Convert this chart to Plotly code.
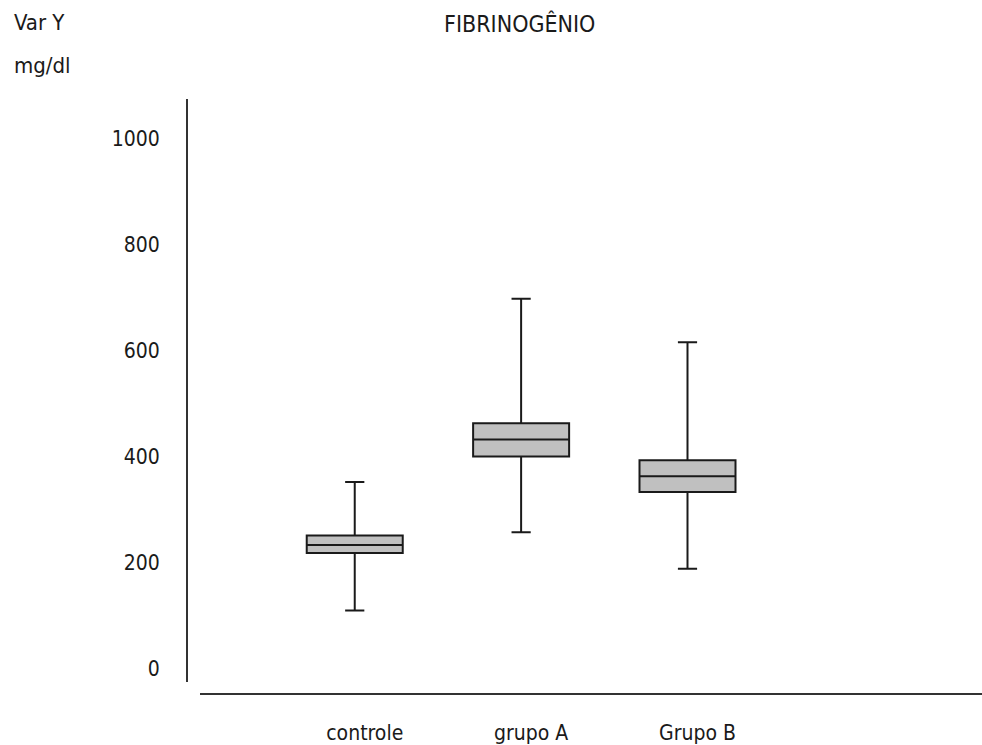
import plotly.graph_objects as go

categories = ["controle", "grupo A", "Grupo B"]
lower_whisker = [109, 257, 188]
q1_vals = [218, 400, 333]
median_vals = [233, 432, 363]
q3_vals = [251, 463, 393]
upper_whisker = [352, 698, 616]
y_ticks = [0, 200, 400, 600, 800, 1000]

W, H = 982, 745
FONT = "Liberation Sans Narrow, Arial Narrow, DejaVu Sans Condensed, sans-serif"
FS_TICK = 21
FS_TITLE = 23
FS_LBL = 22
TXT = "#1a1a1a"

fig = go.Figure()
fig.add_trace(go.Box(
    x=categories,
    q1=q1_vals, median=median_vals, q3=q3_vals,
    lowerfence=lower_whisker, upperfence=upper_whisker,
    fillcolor="#c0c0c0",
    line=dict(color="#1a1a1a", width=2),
    width=0.577,
    whiskerwidth=0.2,
    boxpoints=False,
    hoverinfo="skip",
    showlegend=False,
))

fig.update_layout(
    width=W, height=H,
    margin=dict(l=0, r=0, t=0, b=0),
    paper_bgcolor="white", plot_bgcolor="white",
    font=dict(family=FONT, size=FS_TICK, color=TXT),
    showlegend=False,
    xaxis=dict(
        domain=[200 / W, 1.0],
        range=[-0.93, 3.77],
        anchor="free", position=(H - 702) / H,
        showline=True, linecolor="#333333", linewidth=2,
        showgrid=False, zeroline=False,
        ticks="", tickfont=dict(family=FONT, size=FS_TICK, color=TXT),
        ticklabelstandoff=19, ticklabelshift=10,
    ),
    yaxis=dict(
        domain=[(H - 689) / H, (H - 100) / H],
        range=[-25.2, 1075.7],
        anchor="free", position=187 / W,
        showline=True, linecolor="#333333", linewidth=2,
        showgrid=False, zeroline=False,
        tickvals=y_ticks, ticks="",
        tickfont=dict(family=FONT, size=FS_TICK, color=TXT),
        ticklabelstandoff=22,
    ),
    annotations=[
        dict(text="FIBRINOGÊNIO", x=519 / W, y=(H - 24) / H, xref="paper", yref="paper",
             xanchor="center", yanchor="middle", showarrow=False,
             font=dict(family=FONT, size=FS_TITLE, color=TXT)),
        dict(text="Var Y", x=12 / W, y=(H - 23) / H, xref="paper", yref="paper",
             xanchor="left", yanchor="middle", showarrow=False,
             font=dict(family=FONT, size=FS_LBL, color=TXT)),
        dict(text="mg/dl", x=12 / W, y=(H - 66) / H, xref="paper", yref="paper",
             xanchor="left", yanchor="middle", showarrow=False,
             font=dict(family=FONT, size=FS_LBL, color=TXT)),
    ],
)

fig.write_html("out.html")
